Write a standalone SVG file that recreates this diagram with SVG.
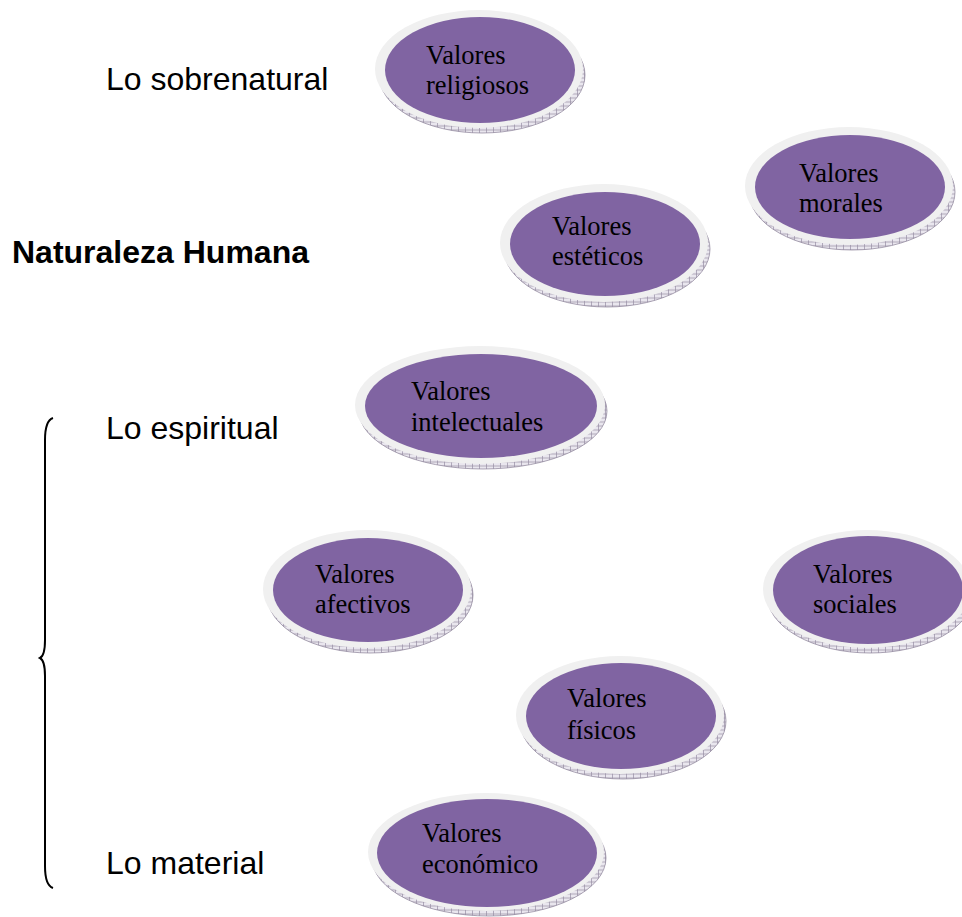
<svg xmlns="http://www.w3.org/2000/svg" width="962" height="917" viewBox="0 0 962 917">
<defs>
<pattern id="hatch" width="7" height="4" patternUnits="userSpaceOnUse">
<rect width="7" height="4" fill="#e9e6ee"/>
<path d="M0,2 H7 M3.5,0 V4" stroke="#978ea3" stroke-width="0.7"/>
</pattern>
<style>
.side{fill:url(#hatch);stroke:#8a8096;stroke-width:0.7}
.rim{fill:#f0f0f0}
.face{fill:#8064a2}
.vt{font-family:"Liberation Serif","Times New Roman",serif;font-size:26.5px;fill:#000}
.lbl{font-family:"Liberation Sans",Arial,sans-serif;font-size:32px;fill:#000}
.bold{font-weight:bold}
</style>
</defs>
<rect width="962" height="917" fill="#fff"/>

<g id="labels">
<text class="lbl" x="106" y="90">Lo sobrenatural</text>
<text class="lbl bold" x="12" y="263">Naturaleza Humana</text>
<text class="lbl" x="106" y="439">Lo espiritual</text>
<text class="lbl" x="106" y="874">Lo material</text>
</g>

<g id="connectors">
<path d="M53,418 C47,420 45,428 45,440 L45,640 C45,650 44,656 40,658 C44,660 45,666 45,676 L45,866 C45,878 47,886 53,888" fill="none" stroke="#000" stroke-width="2"/>
</g>

<g id="religiosos">
<ellipse class="side" cx="482" cy="75" rx="103" ry="58"/>
<ellipse class="rim" cx="479" cy="69" rx="104" ry="59"/>
<ellipse class="face" cx="480" cy="70" rx="95" ry="53"/>
<text class="vt" x="426" y="64">Valores</text>
<text class="vt" x="426" y="94">religiosos</text>
</g>

<g id="morales">
<ellipse class="side" cx="852" cy="192" rx="103" ry="58"/>
<ellipse class="rim" cx="849" cy="186" rx="104" ry="59"/>
<ellipse class="face" cx="850" cy="187" rx="95" ry="52"/>
<text class="vt" x="799" y="182">Valores</text>
<text class="vt" x="799" y="212">morales</text>
</g>

<g id="esteticos">
<ellipse class="side" cx="607" cy="249" rx="103" ry="58"/>
<ellipse class="rim" cx="604" cy="243" rx="104" ry="59"/>
<ellipse class="face" cx="605" cy="244" rx="95" ry="52"/>
<text class="vt" x="552" y="235">Valores</text>
<text class="vt" x="552" y="265">estéticos</text>
</g>

<g id="intelectuales">
<ellipse class="side" cx="483" cy="411" rx="124" ry="58"/>
<ellipse class="rim" cx="480" cy="405" rx="125" ry="59"/>
<ellipse class="face" cx="481" cy="406" rx="116" ry="52"/>
<text class="vt" x="411" y="400">Valores</text>
<text class="vt" x="411" y="431">intelectuales</text>
</g>

<g id="afectivos">
<ellipse class="side" cx="370" cy="595" rx="103" ry="58"/>
<ellipse class="rim" cx="367" cy="589" rx="104" ry="59"/>
<ellipse class="face" cx="368" cy="590" rx="95" ry="52"/>
<text class="vt" x="315" y="583">Valores</text>
<text class="vt" x="315" y="613">afectivos</text>
</g>

<g id="sociales">
<ellipse class="side" cx="870" cy="595" rx="103" ry="58"/>
<ellipse class="rim" cx="867" cy="589" rx="104" ry="59"/>
<ellipse class="face" cx="868" cy="590" rx="95" ry="54"/>
<text class="vt" x="813" y="583">Valores</text>
<text class="vt" x="813" y="613">sociales</text>
</g>

<g id="fisicos">
<ellipse class="side" cx="623" cy="721" rx="103" ry="58"/>
<ellipse class="rim" cx="620" cy="715" rx="104" ry="59"/>
<ellipse class="face" cx="621" cy="716" rx="95" ry="53"/>
<text class="vt" x="567" y="707">Valores</text>
<text class="vt" x="567" y="739">físicos</text>
</g>

<g id="economico">
<ellipse class="side" cx="489" cy="858" rx="117" ry="58"/>
<ellipse class="rim" cx="486" cy="852" rx="118" ry="59"/>
<ellipse class="face" cx="487" cy="853" rx="110" ry="54"/>
<text class="vt" x="422" y="842">Valores</text>
<text class="vt" x="422" y="873">económico</text>
</g>
</svg>
